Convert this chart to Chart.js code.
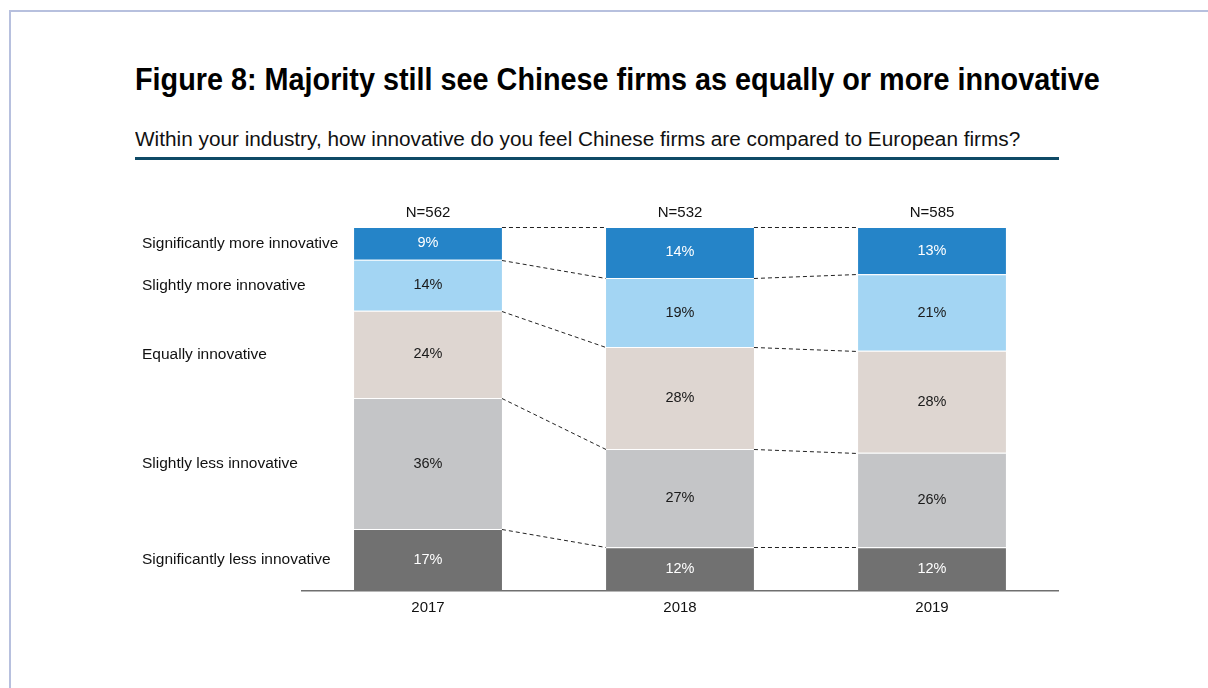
<!DOCTYPE html>
<html>
<head>
<meta charset="utf-8">
<script src="https://cdn.jsdelivr.net/npm/chart.js@4"></script>
<style>
  html, body { margin: 0; padding: 0; background: #fff; }
  body { width: 1208px; height: 688px; position: relative; overflow: hidden; font-family: "Liberation Sans", Arial, sans-serif; }
  .frame { position: absolute; left: 9px; top: 10px; width: 1300px; height: 800px; border-top: 2px solid #b7c0de; border-left: 2px solid #b7c0de; }
  #title { position: absolute; left: 135px; top: 62px; font-size: 31px; line-height: 36px; font-weight: bold; color: #000; white-space: nowrap; transform-origin: left top; }
  #subtitle { position: absolute; left: 135px; top: 127px; font-size: 20px; line-height: 24px; color: #111; white-space: nowrap; transform-origin: left top; }
  .rule { position: absolute; left: 135px; top: 157px; width: 924px; height: 3px; background: #0f4a66; }
  #miCanvas { position: absolute; left: 0; top: 0; }
</style>
</head>
<body>
<div class="frame"></div>
<div id="title">Figure 8: Majority still see Chinese firms as equally or more innovative</div>
<div id="subtitle">Within your industry, how innovative do you feel Chinese firms are compared to European firms?</div>
<div class="rule"></div>
<canvas id="miCanvas" width="1208" height="688"></canvas>
<script>
const years = ["2017", "2018", "2019"];
const sampleSizes = ["N=562", "N=532", "N=585"];
const answers = [
    "Significantly less innovative",
    "Slightly less innovative",
    "Equally innovative",
    "Slightly more innovative",
    "Significantly more innovative"
];
const sigLess = [17, 12, 12];
const slightLess = [36, 27, 26];
const equally = [24, 28, 28];
const slightMore = [14, 19, 21];
const sigMore = [9, 14, 13];

const seriesValues = [sigLess, slightLess, equally, slightMore, sigMore];
const fills = ["#717171", "#c4c5c7", "#ded6d1", "#a3d5f3", "#2584c8"];
const textColors = ["#ffffff", "#1a1a1a", "#1a1a1a", "#1a1a1a", "#ffffff"];

const font = '"Liberation Sans", Arial, sans-serif';

// squeeze / stretch the heading lines to their set widths
const fitWidth = (id, w) => {
    const el = document.getElementById(id);
    el.style.transform = `scaleX(${w / el.scrollWidth})`;
};
fitWidth("title", 965);
fitWidth("subtitle", 885);

// percent labels, N= labels, answer names and the dashed connectors
const extras = {
    id: "extras",
    afterDatasetsDraw(chart) {
        const ctx = chart.ctx;
        const area = chart.chartArea;
        ctx.save();
        ctx.textAlign = "center";
        ctx.textBaseline = "middle";

        ctx.font = "14.5px " + font;
        chart.data.datasets.forEach((ds, i) => {
            const meta = chart.getDatasetMeta(i);
            meta.data.forEach((bar, j) => {
                ctx.fillStyle = textColors[i];
                ctx.fillText(ds.data[j] + "%", bar.x, (bar.y + bar.base) / 2);
            });
        });

        // sample size above each column
        ctx.font = "15px " + font;
        const topMeta = chart.getDatasetMeta(0);
        topMeta.data.forEach((bar, j) => {
            ctx.fillStyle = "#111";
            ctx.fillText(sampleSizes[j], bar.x, area.top - 14);
        });

        // answer names next to first column
        ctx.font = "15.5px " + font;
        ctx.textAlign = "left";
        ctx.fillStyle = "#111";
        chart.data.datasets.forEach((ds, i) => {
            const bar = chart.getDatasetMeta(i).data[0];
            ctx.fillText(answers[i], 142, (bar.y + bar.base) / 2);
        });

        // dashed connectors between segment tops
        ctx.strokeStyle = "#222";
        ctx.lineWidth = 1;
        ctx.setLineDash([4, 3]);
        for (let j = 0; j < years.length - 1; j++) {
            chart.data.datasets.forEach((ds, i) => {
                const a = chart.getDatasetMeta(i).data[j];
                const b = chart.getDatasetMeta(i).data[j + 1];
                ctx.beginPath();
                ctx.moveTo(a.x + a.width / 2, Math.round(a.y) + 0.5);
                ctx.lineTo(b.x - b.width / 2, Math.round(b.y) + 0.5);
                ctx.stroke();
            });
        }
        ctx.restore();
    }
};

const ctx = document.getElementById("miCanvas").getContext("2d");
new Chart(ctx, {
    type: "bar",
    data: {
        labels: years,
        datasets: seriesValues.map((vals, i) => ({
            label: answers[i],
            data: vals,
            backgroundColor: fills[i],
            borderColor: "rgba(255,255,255,0.6)",
            borderWidth: { top: 1 },
            borderSkipped: false,
            barPercentage: 0.587,
            categoryPercentage: 1
        }))
    },
    options: {
        responsive: false,
        animation: false,
        layout: { padding: { left: 302, right: 150, top: 227, bottom: 67 } },
        plugins: {
            legend: { display: false },
            tooltip: { enabled: false }
        },
        scales: {
            x: {
                stacked: true,
                grid: { display: false, drawTicks: false },
                border: { display: true, color: "#6f6f6f", width: 1.5 },
                ticks: { color: "#111", font: { family: font, size: 15 }, padding: 8 },
                afterFit: (s) => { s.height = 30; }
            },
            y: {
                stacked: true,
                display: false,
                min: 0,
                max: 100
            }
        }
    },
    plugins: [extras]
});
</script>
</body>
</html>
